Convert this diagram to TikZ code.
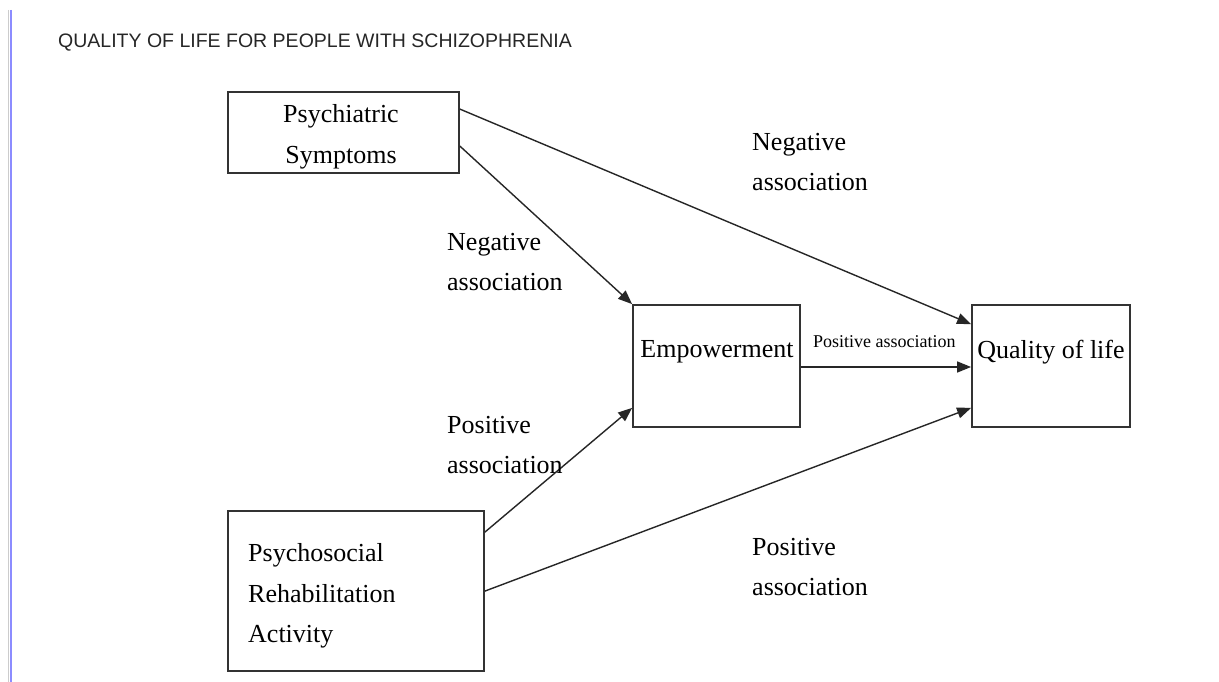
\documentclass[tikz,border=0pt]{standalone}
\usepackage{fontspec}
\setmainfont{Liberation Serif}
\newfontfamily\hdrfont{Liberation Sans}
\usetikzlibrary{arrows.meta}
\begin{document}
\begin{tikzpicture}[x=1pt,y=-1pt,
  box/.style={draw=black!80,line width=1.8pt,minimum width=#1,inner sep=0pt},
  txt/.style={inner sep=0pt,font=\fontsize{26}{40.5}\selectfont,text=black},
  small/.style={inner sep=0pt,font=\fontsize{18}{20}\selectfont,text=black},
  conn/.style={draw=black!85,line width=1.4pt,-{Triangle[length=14pt,width=11pt]}}
]
\useasboundingbox[fill=white] (0,0) rectangle (1219,682);
% page edge
\draw[black!20,line width=1pt] (8.5,10) -- (8.5,682);
\draw[blue!45!white,line width=2pt] (11,10) -- (11,682);
% header
\node[anchor=west,inner sep=0pt,font=\hdrfont\fontsize{19.5}{22}\selectfont,text=black!85] (hdr) at (58,43) {QUALITY OF LIFE FOR PEOPLE WITH SCHIZOPHRENIA};
% boxes
\node[box=231pt,minimum height=81pt] (psych) at (343.5,132.5) {};
\node[box=167pt,minimum height=122pt] (emp) at (716.5,366) {};
\node[box=158pt,minimum height=122pt] (qol) at (1051,366) {};
\node[box=256pt,minimum height=160pt] (psy) at (356,591) {};
% box texts
\node[txt,align=center] (tpsych) at (341,137) {Psychiatric\\Symptoms};
\node[txt] (temp) at (717,352) {Empowerment};
\node[txt] (tqol) at (1051,352) {Quality of life};
\node[txt,align=left,anchor=west] (tpsy) at (248,596) {Psychosocial\\Rehabilitation\\Activity};
% connectors
\draw[conn] ([yshift=-18pt]psych.north east) -- ([yshift=-20pt]qol.north west);
\draw[conn] ([yshift=-55pt]psych.north east) -- (emp.north west);
\draw[conn] ([yshift=-22pt]psy.north east) -- ([yshift=20pt]emp.south west);
\draw[conn] ([yshift=-81pt]psy.north east) -- ([yshift=20pt]qol.south west);
\draw[conn] ([yshift=-1pt]emp.east) -- ([yshift=-1pt]qol.west);
% labels
\node[txt,align=left,anchor=west] (l1) at (752,162) {Negative\\association};
\node[txt,align=left,anchor=west] (l2) at (447,262) {Negative\\association};
\node[txt,align=left,anchor=west] (l3) at (447,445) {Positive\\association};
\node[txt,align=left,anchor=west] (l4) at (752,567) {Positive\\association};
\node[small,anchor=west] (l5) at (813,342) {Positive association};
\end{tikzpicture}
\end{document}
